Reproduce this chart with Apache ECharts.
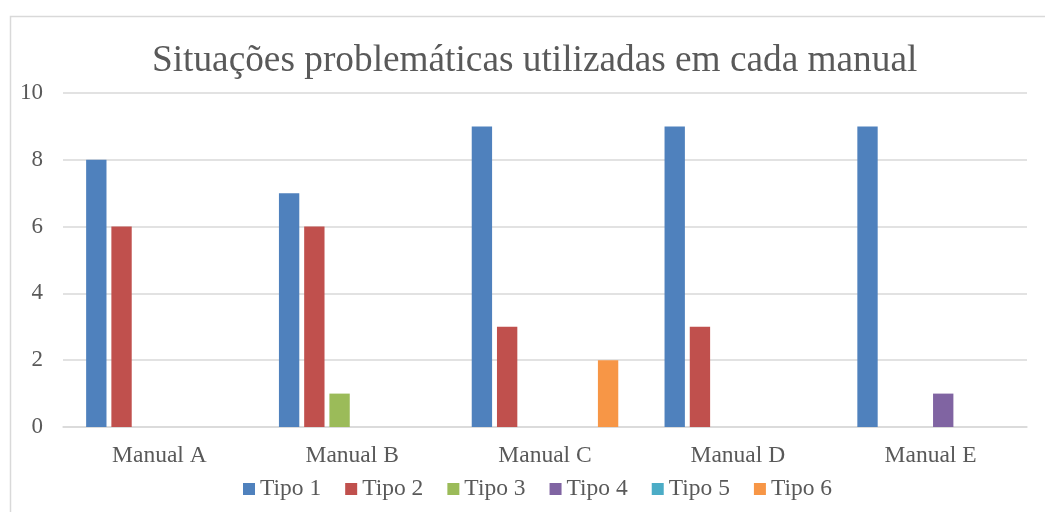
<!DOCTYPE html>
<html><head><meta charset="utf-8">
<script src="https://cdn.jsdelivr.net/npm/echarts@6/dist/echarts.min.js"></script>
<style>html,body{margin:0;padding:0;background:#fff}#c{width:1045px;height:512px}</style>
</head><body><div id="c"></div>
<script>
const categories = ["Manual A","Manual B","Manual C","Manual D","Manual E"];
const seriesNames = ["Tipo 1","Tipo 2","Tipo 3","Tipo 4","Tipo 5","Tipo 6"];
const tipo1 = [8,7,9,9,9];
const tipo2 = [6,6,3,3,0];
const tipo3 = [0,1,0,0,0];
const tipo4 = [0,0,0,0,1];
const tipo5 = [0,0,0,0,0];
const tipo6 = [0,0,2,0,0];
const seriesValues = [tipo1,tipo2,tipo3,tipo4,tipo5,tipo6];
const colors = ["#4F81BD","#C0504D","#9BBB59","#8064A2","#4BACC6","#F79646"];
const font = "'Liberation Serif','Times New Roman',serif";
const chart = echarts.init(document.getElementById('c'));
chart.setOption({
  animation:false,
  color:colors,
  textStyle:{fontFamily:font},
  graphic:[{type:'rect',shape:{x:10.5,y:16.5,width:1200,height:700},style:{fill:'none',stroke:'#d9d9d9',lineWidth:1.5},silent:true}],
  title:{text:"Situações problemáticas utilizadas em cada manual",left:147,top:38,
    textStyle:{fontFamily:font,fontSize:37.3,fontWeight:'normal',color:'#595959'}},
  legend:{top:472,left:238,itemWidth:12,itemHeight:12,itemGap:24,icon:'rect',
    textStyle:{fontFamily:font,fontSize:23.5,color:'#595959'},data:seriesNames},
  grid:{left:63,right:18,top:93,bottom:85},
  xAxis:{type:'category',data:categories,
    axisLine:{lineStyle:{color:'#d9d9d9',width:1.5}},axisTick:{show:false},
    axisLabel:{fontFamily:font,fontSize:23.5,color:'#595959',margin:17}},
  yAxis:{type:'value',min:0,max:10,interval:2,
    axisLine:{show:false},axisTick:{show:false},
    splitLine:{lineStyle:{color:'#d9d9d9',width:1.5}},
    axisLabel:{fontFamily:font,fontSize:23,color:'#595959',margin:20}},
  series:seriesValues.map((v,i)=>({name:seriesNames[i],type:'bar',data:v,
    barGap:'24%',barCategoryGap:'24%',itemStyle:{color:colors[i]}}))
});
</script></body></html>
